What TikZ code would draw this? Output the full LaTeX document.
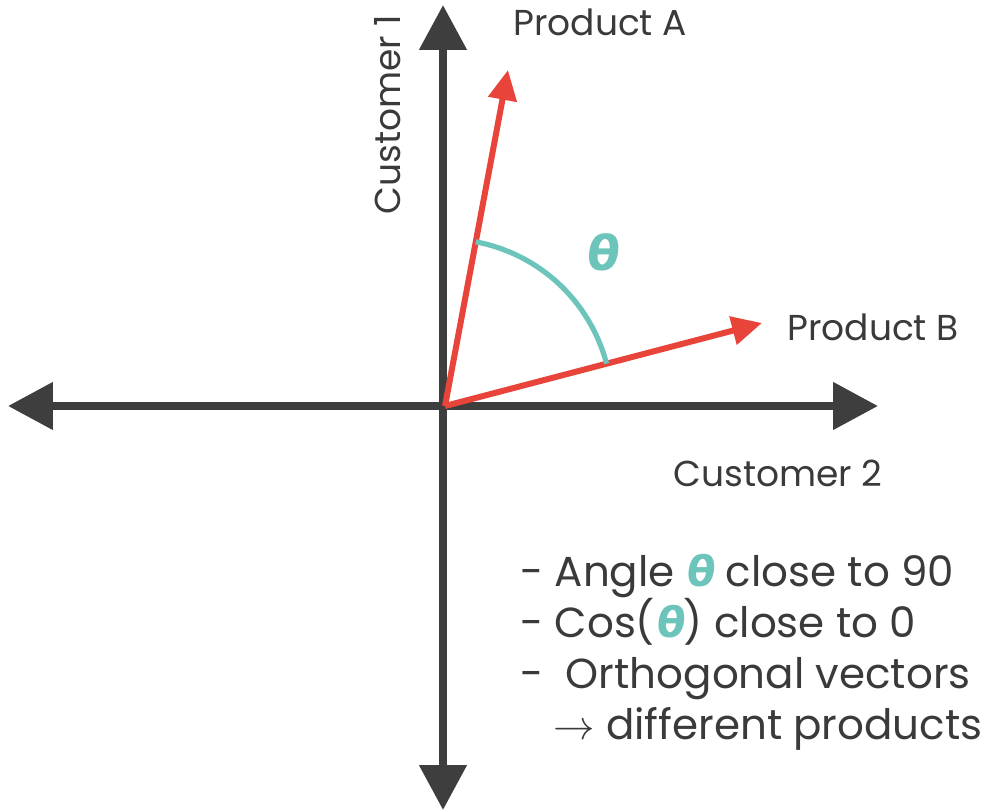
\documentclass[tikz,border=0pt]{standalone}
\usepackage{fontspec}
\setmainfont{Poppins}
\newfontfamily\thetafont{DejaVu Sans}[FakeSlant=0.12]
\usepackage{tikz}
\usetikzlibrary{arrows.meta}
\definecolor{axisgray}{HTML}{3E3E3E}
\definecolor{vecred}{HTML}{E8443A}
\definecolor{angteal}{HTML}{6CC4BA}
\definecolor{txtgray}{HTML}{3A3A3A}
\newcommand{\thsym}{{\thetafont\bfseries\color{angteal}θ}}

\begin{document}
\begin{tikzpicture}[
    x=0.5pt, y=0.5pt,
    axis/.style={line width=4pt, draw=axisgray, {Triangle[length=22.5pt, width=23pt]}-{Triangle[length=22.5pt, width=23pt]}},
    vec/.style={line width=3pt, draw=vecred, -{Triangle[length=15pt, width=14pt]}},
    ang/.style={line width=2.6pt, draw=angteal},
    lbl/.style={anchor=base west, inner sep=0pt, text=txtgray, font=\fontsize{18}{20}\selectfont},
    note/.style={anchor=base west, inner sep=0pt, text=txtgray, align=left, font=\fontsize{21}{25.5}\selectfont}
]
    \useasboundingbox (-445,-406) rectangle (550,406);

    \coordinate (O) at (0,0);
    \coordinate (xl) at (-437,0);
    \coordinate (xr) at (433,0);
    \coordinate (yt) at (-2,401);
    \coordinate (yb) at (-2,-404);
    \coordinate (pa) at (63,336);
    \coordinate (pb) at (317,83);

    \draw[axis] (xl) -- (xr);
    \draw[axis] (yb) -- (yt);

    \draw[vec] (O) -- (pa);
    \draw[vec] (O) -- (pb);

    \draw[ang] ([shift={(14.7:167)}]O) arc[start angle=14.7, end angle=79.4, radius=83.5pt];
    \node[text=angteal, font=\fontsize{24}{24}\thetafont\bfseries] (th) at (157,154) {θ};

    \node[lbl] (prodA) at (68,370) {Product A};
    \node[lbl] (prodB) at (342,65) {Product B};
    \node[lbl] (cust2) at (228,-81) {Customer 2};
    \node[lbl, rotate=90] (cust1) at (-45,191) {Customer 1};

    \node[note] (notes) at (75,-334) {- Angle \thsym{} close to 90\\
        - Cos(\thsym) close to 0\\
        -\ \ Orthogonal vectors\\
        \hspace{16.5pt}$\rightarrow$ different products};
\end{tikzpicture}
\end{document}
